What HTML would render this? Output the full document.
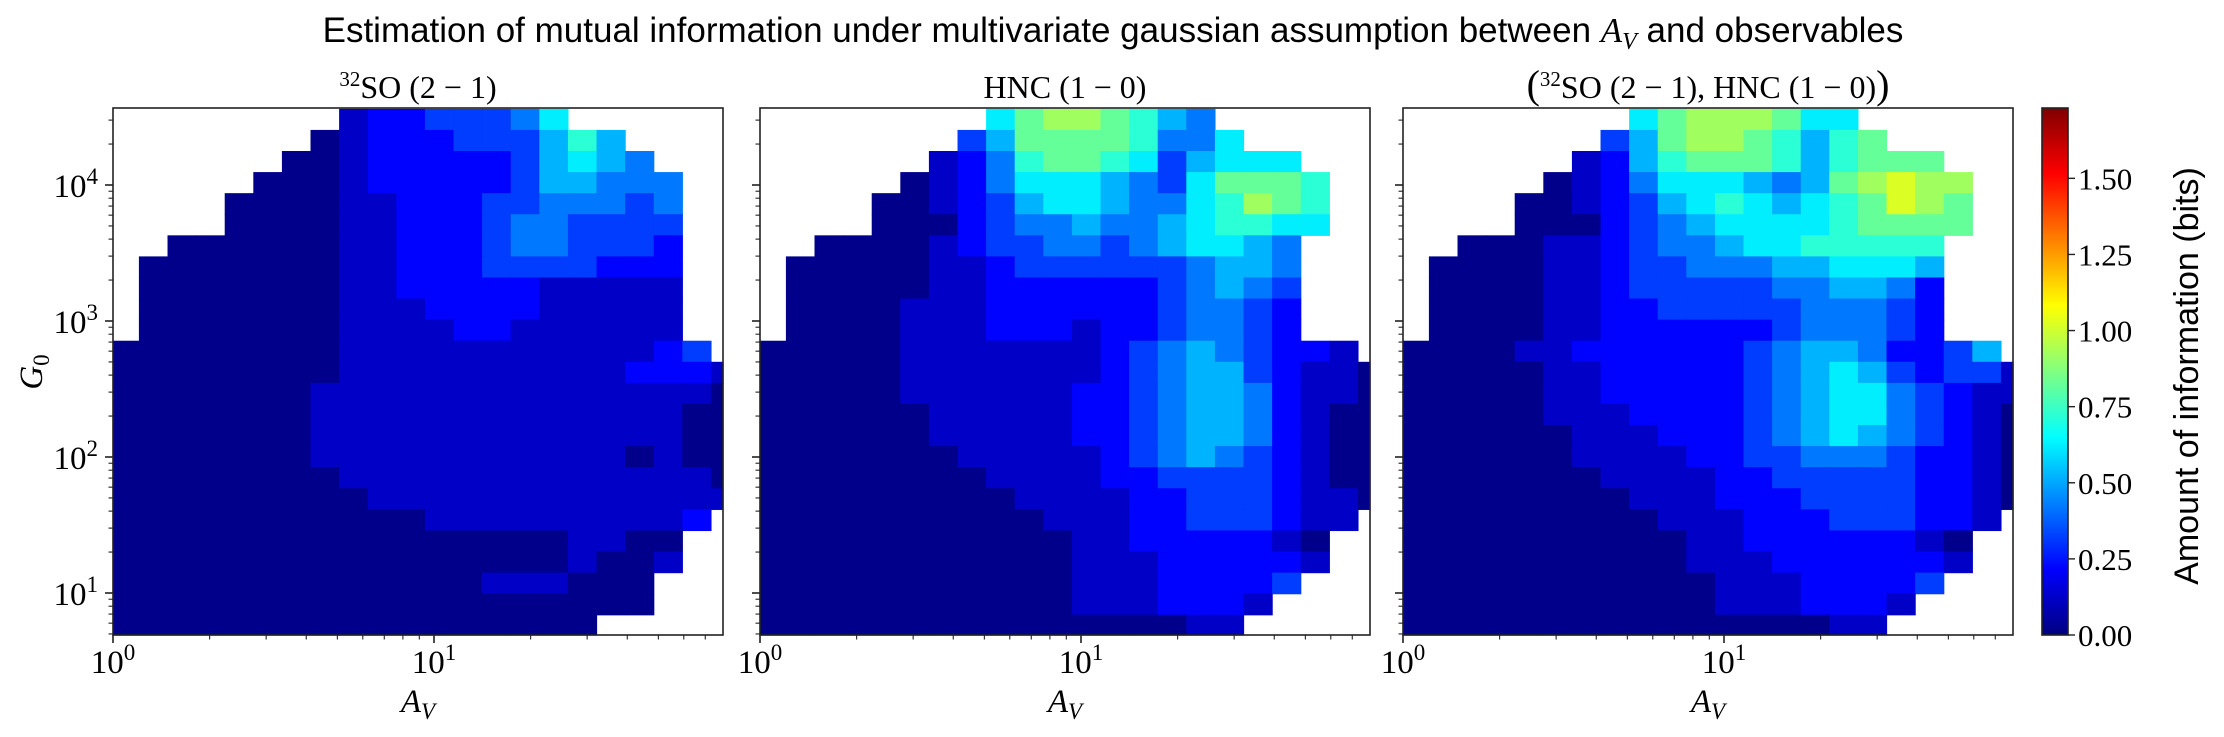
<!DOCTYPE html>
<html><head><meta charset="utf-8"><style>
html,body{margin:0;padding:0;background:#fff;}
svg{display:block;}
.serif{font-family:"Liberation Serif",serif;fill:#000;}
.sans{font-family:"Liberation Sans",sans-serif;fill:#000;}
</style></head><body>
<svg id="chart" width="2224" height="737" viewBox="0 0 2224 737" xmlns="http://www.w3.org/2000/svg">
<defs>
<linearGradient id="jetgrad" x1="0" y1="1" x2="0" y2="0"></linearGradient>
</defs>
<text class="sans" x="1113" y="42" font-size="35" text-anchor="middle">Estimation of mutual information under multivariate gaussian assumption between <tspan font-family="Liberation Serif" font-style="italic">A</tspan><tspan font-family="Liberation Serif" font-style="italic" font-size="24" dy="7">V</tspan><tspan dy="-7"> and observables</tspan></text>
<g id="panels"></g>
<g id="cbar"></g>
</svg>
<script>
// ---- data (one string per G0 row, top to bottom; '.' = no data, 0-9/a = tenths of bits) ----
const so32Rows = [
"........12233346",
".......01222333575",
"......0012222235654",
".....000122222355444",
"....0000112223344434",
"....0000112223443333",
"..000000112223443332",
".0000000112223333222",
".0000000112222211111",
".0000000111222211111",
".0000000111122111111",
"000000001111111111123",
"0000000011111111112221",
"0000000111111111111110",
"0000000111111111111100",
"0000000111111111111100",
"0000000111111111110100",
"0000000011111111111110",
"0000000001111111111111",
"000000000001111111112",
"00000000000000001100",
"00000000000000001001",
"0000000000000111000",
"0000000000000000000",
"00000000000000000"
];
const hncRows = [
"........68998754",
".......3588887446",
"......1247887635666",
".....012466654368887",
"....0012356654467987",
"....0002344544567766",
"..00001233443456654",
".000001123333334554",
".000001122222234543",
".000011122222234432",
".000011122212234432",
"000001111111234543221",
"0000011111112345532110",
"0000011111122345542110",
"0000001111122345542100",
"0000001111122345542100",
"0000000111112345432100",
"0000000011112233332100",
"0000000001111223332110",
"000000000011122333211",
"00000000000112222210",
"00000000000111222221",
"0000000000011122223",
"000000000001112221",
"00000000000000011"
];
const jointRows = [
"........68999866",
".......3589987578",
"......1257888757888",
".....012466654589a99",
"....0012356765678a98",
"....0002345666678888",
"..00011234456677777",
".000011233444556665",
".000011233333445542",
".000011223333344432",
".000011222222344432",
"000011222222345542235",
"0000011222223456532331",
"0000011222223456643211",
"0000011122223456643210",
"0000001112223456543210",
"0000001111223344432210",
"0000000111122333332210",
"0000000011122233332210",
"000000000111222333221",
"00000000001122222210",
"00000000001112222221",
"0000000000011122223",
"000000000001112221",
"00000000000000011"
];
const panelTitles = ["so32", "hnc", "joint"];
const xTickLabels = ["0", "1"];
const yTickLabels = ["1", "2", "3", "4"];
const cbarTicks = [0, 0.25, 0.5, 0.75, 1.0, 1.25, 1.5];
const cbarTickLabels = ["0.00", "0.25", "0.50", "0.75", "1.00", "1.25", "1.50"];

// ---- axes ----
const VMAX = 1.731;
const PW = 610, TOP = 108, BOT = 635, DEC_X = 321;
const LEFTS = [113, 760, 1403];
const X_START = -0.0084, X_STEP = 0.0891;
const Y_TOP = 4.56, Y_STEP = 0.155;
const X_MAX = PW / DEC_X;
function xs(p, lg) { return LEFTS[p] + lg * DEC_X; }
function ys(lg) { return 185 - (lg - 4) * 136; }
function jet(v) {
  const t = Math.max(0, Math.min(1, v / VMAX));
  const c = k => Math.round(255 * Math.max(0, Math.min(1, 1.5 - Math.abs(4 * t - k))));
  return "rgb(" + c(3) + "," + c(2) + "," + c(1) + ")";
}
const NS = "http://www.w3.org/2000/svg";
function mk(tag, attrs, parent) {
  const e = document.createElementNS(NS, tag);
  for (const k in attrs) e.setAttribute(k, attrs[k]);
  parent.appendChild(e);
  return e;
}
const panelsG = document.getElementById("panels");
const datasets = [so32Rows, hncRows, jointRows];

datasets.forEach((rows, p) => {
  const g = mk("g", {}, panelsG);
  
  
  const L = LEFTS[p], R = L + PW;
  rows.forEach((row, r) => {
    for (let c = 0; c < row.length; c++) {
      const ch = row[c];
      if (ch === ".") continue;
      const v = parseInt(ch, 36) * 0.1 + 0.02;
      let x0 = xs(p, X_START + c * X_STEP), x1 = xs(p, X_START + (c + 1) * X_STEP);
      let y0 = ys(Y_TOP - r * Y_STEP), y1 = ys(Y_TOP - (r + 1) * Y_STEP);
      x0 = Math.max(L, x0); x1 = Math.min(R, x1);
      y0 = Math.max(TOP, y0); y1 = Math.min(BOT, y1);
      if (x1 <= x0 || y1 <= y0) continue;
      const rc = mk("rect", {x: x0.toFixed(2), y: y0.toFixed(2), width: (x1 - x0 + 0.6).toFixed(2), height: (y1 - y0 + 0.6).toFixed(2), fill: jet(v)}, g);
      
      
    }
  });
  const sp = mk("rect", {x: L, y: TOP, width: PW, height: BOT - TOP, fill: "none", stroke: "#222", "stroke-width": 1.6}, g);
  
  
  for (let d = 0; d <= 1; d++) {
    for (let m = 1; m <= 9; m++) {
      const lg = d + Math.log10(m);
      if (lg > X_MAX + 0.001) continue;
      const x = xs(p, lg);
      mk("line", {x1: x, y1: BOT, x2: x, y2: BOT + (m === 1 ? 8 : 4.5), stroke: "#222", "stroke-width": m === 1 ? 1.6 : 1.1}, g);
    }
  }
  xTickLabels.forEach(e => {
    const t = mk("text", {x: xs(p, +e), y: 673, "font-size": 33, "text-anchor": "middle", class: "serif"}, g);
    
    
    t.innerHTML = '10<tspan font-size="23" dy="-13">' + e + '</tspan>';
  });
  const xl = mk("text", {x: L + PW / 2, y: 712, "font-size": 33, "text-anchor": "middle", class: "serif"}, g);
  
  
  xl.innerHTML = '<tspan font-style="italic">A</tspan><tspan font-style="italic" font-size="23" dy="7">V</tspan>';
  for (let d = 0; d <= 4; d++) {
    for (let m = 1; m <= 9; m++) {
      const lg = d + Math.log10(m);
      const y = ys(lg);
      if (y < TOP - 0.5 || y > BOT + 0.5) continue;
      mk("line", {x1: L, y1: y, x2: L - (m === 1 ? 8 : 4.5), y2: y, stroke: "#222", "stroke-width": m === 1 ? 1.6 : 1.1}, g);
    }
  }
  if (p === 0) {
    yTickLabels.forEach(e => {
      const t = mk("text", {x: 98, y: ys(+e) + 12, "font-size": 33, "text-anchor": "end", class: "serif"}, g);
      
      
      t.innerHTML = '10<tspan font-size="23" dy="-13">' + e + '</tspan>';
    });
    const yl = mk("text", {x: 0, y: 0, "font-size": 33, "text-anchor": "middle", class: "serif", transform: "translate(42,372) rotate(-90)"}, g);
    
    
    yl.innerHTML = '<tspan font-style="italic">G</tspan><tspan font-size="23" dy="7">0</tspan>';
  }
  const tt = mk("text", {x: L + PW / 2, y: 98, "font-size": 32, "text-anchor": "middle", class: "serif"}, g);
  
  
  const so = '<tspan font-size="21" dy="-12">32</tspan><tspan dy="12">SO (2 − 1)</tspan>';
  if (p === 0) tt.innerHTML = so;
  else if (p === 1) tt.innerHTML = 'HNC (1 − 0)';
  else tt.innerHTML = '<tspan font-size="40">(</tspan><tspan font-size="21" dy="-12">32</tspan><tspan dy="12">SO (2 − 1), HNC (1 − 0)</tspan><tspan font-size="40">)</tspan>';
});

const grad = document.getElementById("jetgrad");
for (let i = 0; i <= 16; i++) {
  mk("stop", {offset: (i / 16), "stop-color": jet(VMAX * i / 16)}, grad);
}
const cb = document.getElementById("cbar");
const CBX = 2042, CBW = 26;
function cy(v) { return BOT - (v / VMAX) * (BOT - TOP); }
const cbr = mk("rect", {x: CBX, y: TOP, width: CBW, height: BOT - TOP, fill: "url(#jetgrad)", stroke: "#222", "stroke-width": 1.6}, cb);


cbarTicks.forEach((v, i) => {
  const y = cy(v);
  mk("line", {x1: CBX + CBW, y1: y, x2: CBX + CBW + 7, y2: y, stroke: "#222", "stroke-width": 1.4}, cb);
  const t = mk("text", {x: CBX + CBW + 10, y: y + 11, "font-size": 31, class: "serif"}, cb);
  
  
  t.textContent = cbarTickLabels[i];
});
const cbl = mk("text", {x: 0, y: 0, "font-size": 34, "text-anchor": "middle", class: "sans", transform: "translate(2198,376) rotate(-90)"}, cb);


cbl.textContent = "Amount of information (bits)";
</script>
</body></html>
